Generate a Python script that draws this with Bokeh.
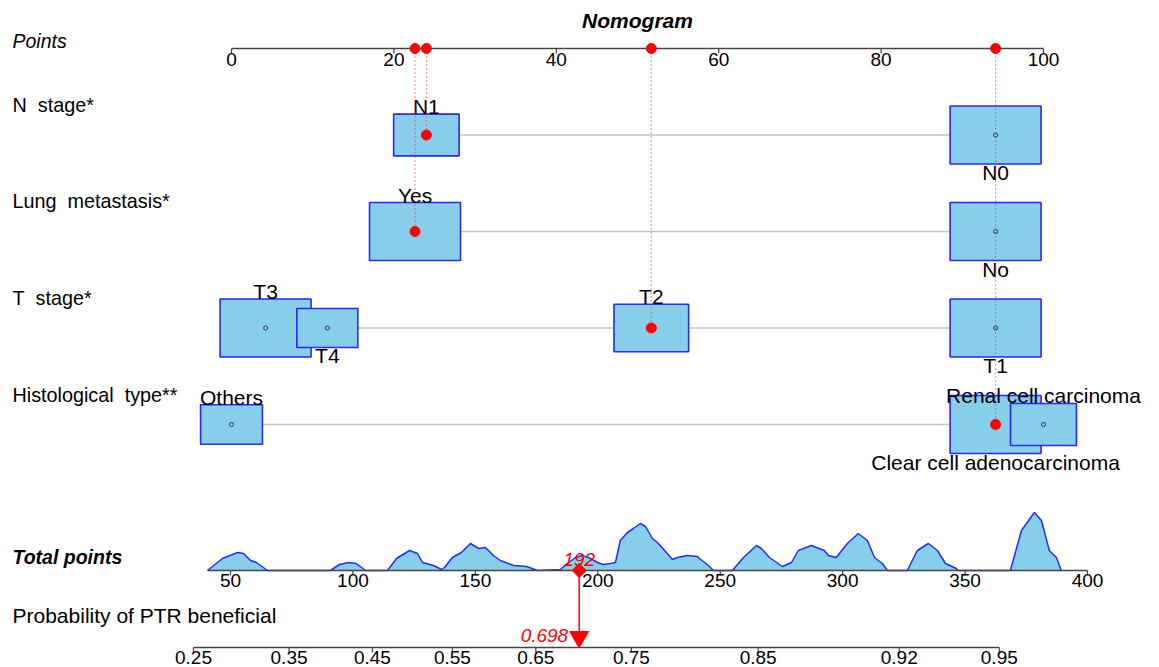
import math
import numpy as np
from bokeh.plotting import figure
from bokeh.models import Range1d
from bokeh.core.properties import value
from bokeh.embed import file_html
from bokeh.resources import INLINE

# ---------------- data ----------------
title = "Nomogram"
row_labels = ["N\u00a0 stage*", "Lung\u00a0 metastasis*", "T\u00a0 stage*", "Histological\u00a0 type**"]

n_stage_cats = ["N1", "N0"]
n_stage_pts = [24.0, 94.1]
n_stage_freq = [0.72, 1.0]

lung_cats = ["Yes", "No"]
lung_pts = [22.6, 94.1]
lung_freq = [1.0, 1.0]

t_stage_cats = ["T3", "T4", "T2", "T1"]
t_stage_pts = [4.2, 11.8, 51.7, 94.1]
t_stage_freq = [1.0, 0.67, 0.82, 1.0]

hist_cats = ["Others", "Clear cell adenocarcinoma", "Renal cell carcinoma"]
hist_pts = [0.0, 94.1, 100.0]
hist_freq = [0.68, 1.0, 0.725]

selected = ["N1", "Yes", "T2", "Clear cell adenocarcinoma"]

points_ticks = [0, 20, 40, 60, 80, 100]
total_ticks = [50, 100, 150, 200, 250, 300, 350, 400]
prob_ticks = [0.25, 0.35, 0.45, 0.55, 0.65, 0.75, 0.85, 0.92, 0.95]
prob_tick_labels = ["0.25", "0.35", "0.45", "0.55", "0.65", "0.75", "0.85", "0.92", "0.95"]

# logistic model: total points = intercept + slope * logit(p)
model_intercept = 124.3
model_slope = 81.4

# distribution of total points in the cohort (x: total points, h: relative density)
density_x = [40.6, 46.7, 52.9, 55.3, 58.2, 60.6, 65.1,
             90.8, 94.5, 98.2, 101.4, 105.1,
             114.1, 117.8, 123.1, 126.4, 128.4, 132.9, 136.2,
             137.4, 140.6, 144.3, 148.0, 151.3, 154.1, 157.4, 160.2, 165.6, 170.9, 175.4,
             184.7, 187.6, 190.9, 193.7, 196.2, 199.9, 202.3, 205.2, 207.2, 209.2, 212.1,
             214.6, 217.4, 219.5, 222.3, 224.4, 228.4, 230.5, 232.5, 236.6, 240.7, 241.5,
             245.2, 247.2,
             255.0, 259.5, 264.8, 266.8, 270.1, 275.4, 279.1, 281.9, 287.2, 292.5, 294.2,
             297.4, 301.9, 306.4, 310.1, 313.0, 316.2, 318.3,
             326.4, 330.5, 335.0, 338.7, 342.0, 346.4, 347.3,
             368.5, 373.0, 378.3, 381.2, 384.4, 387.3, 389.3]
density_h = [0, 12, 18, 17, 10, 8, 0,
             0, 6, 8, 7, 0,
             0, 12, 20, 17, 8, 5, 1,
             3, 13, 18, 27, 22, 23, 15, 10, 5, 4, 0,
             1, 7, 13, 15, 13, 8, 6, 7, 8, 30, 38,
             42, 47, 44, 32, 28, 17, 11, 13, 15, 14, 12,
             5, 0,
             0, 13, 25, 22, 13, 4, 8, 20, 25, 20, 15,
             13, 27, 37, 30, 13, 7, 0,
             0, 20, 27, 20, 7, 2, 0,
             0, 40, 58, 50, 20, 13, 0]

# ---------------- layout ----------------
W, H = 1159, 667
OFF = 0
PTS_PX0, PTS_PX100 = 231.0, 1043.0       # page px of points 0 and 100
TOT_PX50, TOT_PX400 = 230.0, 1087.0      # page px of total points 50 and 400
pts_per_px = 100.0 / (PTS_PX100 - PTS_PX0)
tot_per_px = 350.0 / (TOT_PX400 - TOT_PX50)


def px_to_pts(px):
    return (px - PTS_PX0) * pts_per_px


POINTS_Y = 48
ROW_Y = [134.5, 231.0, 327.5, 424.0]
TOTAL_Y = 570
PROB_Y = 647
BOX_W = 91 * pts_per_px
BOX_H = 58
LABEL_X = px_to_pts(12)
FONT = value("Liberation Sans")
BOX_FILL = "#87CEEB"
BOX_LINE = "#2828ff"
RED = "#ff0000"
AXIS = "#444444"
TXT = dict(text_baseline="middle", text_font=FONT)

p = figure(width=W, height=H,
           x_range=Range1d(px_to_pts(OFF), px_to_pts(OFF + W)),
           y_range=Range1d(OFF + H, OFF),
           output_backend="svg", toolbar_location=None,
           x_axis_location=None, y_axis_location=None,
           min_border=0, outline_line_color=None)
p.xgrid.visible = False
p.ygrid.visible = False
p.extra_x_ranges = {"total": Range1d(50 + (OFF - TOT_PX50) * tot_per_px,
                                     50 + (OFF + W - TOT_PX50) * tot_per_px)}

# ---------- title and Points axis ----------
p.text(x=[50], y=[20], text=[title], text_align="center", text_font_size="21px",
       text_font_style="bold italic", text_color="black", **TXT)
p.text(x=[LABEL_X], y=[40], text=["Points"], text_align="left", text_font_size="19.5px",
       text_font_style="italic", text_color="black", **TXT)
p.line([points_ticks[0], points_ticks[-1]], [POINTS_Y, POINTS_Y], line_color=AXIS, line_width=1.5)
p.segment(x0=points_ticks, y0=[POINTS_Y] * len(points_ticks), x1=points_ticks,
          y1=[POINTS_Y + 5] * len(points_ticks), line_color=AXIS, line_width=1.2)
p.text(x=points_ticks, y=[58.5] * len(points_ticks), text=[str(t) for t in points_ticks],
       text_align="center", text_font_size="19px", text_color="black", **TXT)

# ---------- variable rows ----------
rows = [(n_stage_cats, n_stage_pts, n_stage_freq),
        (lung_cats, lung_pts, lung_freq),
        (t_stage_cats, t_stage_pts, t_stage_freq),
        (hist_cats, hist_pts, hist_freq)]
label_centers = [104, 200, 297.5, 394]

sel_x, sel_y = [], []
for i, (cats, pts, freq) in enumerate(rows):
    y = ROW_Y[i]
    p.text(x=[LABEL_X], y=[label_centers[i]], text=[row_labels[i]], text_align="left",
           text_font_size="19.8px", text_color="black", **TXT)
    p.line([min(pts), max(pts)], [y, y], line_color="#c4c4c4", line_width=1.6)
    order = list(np.argsort(pts))
    xs = [pts[k] for k in order]
    ws = [BOX_W * freq[k] for k in order]
    hs = [BOX_H * freq[k] for k in order]
    p.rect(x=xs, y=[y] * len(xs), width=ws, height=hs, fill_color=BOX_FILL,
           line_color=BOX_LINE, line_width=1.6)
    p.scatter(x=xs, y=[y] * len(xs), size=4, marker="circle", fill_color=None,
              line_color="#333333", line_width=1)
    lx, ly, lt = [], [], []
    for j, k in enumerate(order):
        lx.append(pts[k])
        lt.append(cats[k])
        if j % 2 == 0:
            ly.append(y - BOX_H * freq[k] / 2 - 7.5)
        else:
            ly.append(y + BOX_H * freq[k] / 2 + 8.5)
        if cats[k] in selected:
            sel_x.append(pts[k])
            sel_y.append(y)
    p.text(x=lx, y=ly, text=lt, text_align="center", text_font_size="21px",
           text_color="black", **TXT)

# red dotted lines and selected dots
p.segment(x0=sel_x, y0=[POINTS_Y] * len(sel_x), x1=sel_x, y1=sel_y,
          line_color="#ff3030", line_width=1.2, line_dash="1 3")
p.scatter(x=sel_x, y=sel_y, size=10, marker="circle", fill_color=RED, line_color=RED)
p.scatter(x=sel_x, y=[POINTS_Y] * len(sel_x), size=10, marker="circle",
          fill_color=RED, line_color=RED)

# ---------- Total points ----------
total = sum(sel_x)
p.text(x=[LABEL_X], y=[556], text=["Total points"], text_align="left", text_font_size="19.5px",
       text_font_style="bold italic", text_color="black", **TXT)
dens_y = [TOTAL_Y - h for h in density_h]
p.varea(x=density_x, y1=[TOTAL_Y] * len(density_x), y2=dens_y, fill_color=BOX_FILL,
        x_range_name="total")
p.line(x=density_x, y=dens_y, line_color="#1f2fff", line_width=1.5, x_range_name="total")
p.line([density_x[0], total_ticks[-1]], [TOTAL_Y, TOTAL_Y], line_color=AXIS, line_width=1.5,
       x_range_name="total")
p.segment(x0=total_ticks, y0=[TOTAL_Y] * len(total_ticks), x1=total_ticks,
          y1=[TOTAL_Y + 5] * len(total_ticks), line_color=AXIS, line_width=1.2,
          x_range_name="total")
p.text(x=total_ticks, y=[580] * len(total_ticks), text=[str(t) for t in total_ticks],
       text_align="center", text_font_size="19px", text_color="black",
       x_range_name="total", **TXT)

# ---------- Probability ----------
prob_pos = [model_intercept + model_slope * math.log(q / (1 - q)) for q in prob_ticks]
p.text(x=[LABEL_X], y=[614.5], text=["Probability of PTR beneficial"], text_align="left",
       text_font_size="21px", text_color="black", **TXT)
p.line([prob_pos[0], prob_pos[-1]], [PROB_Y, PROB_Y], line_color=AXIS, line_width=1.5,
       x_range_name="total")
p.segment(x0=prob_pos, y0=[PROB_Y] * len(prob_pos), x1=prob_pos,
          y1=[PROB_Y + 5] * len(prob_pos), line_color=AXIS, line_width=1.2,
          x_range_name="total")
p.text(x=prob_pos, y=[656.5] * len(prob_pos), text=prob_tick_labels,
       text_align="center", text_font_size="19px", text_color="black",
       x_range_name="total", **TXT)

# ---------- prediction marker ----------
prob = 1 / (1 + math.exp(-(total - model_intercept) / model_slope))
p.segment(x0=[total], y0=[TOTAL_Y], x1=[total], y1=[PROB_Y - 8], line_color=RED,
          line_width=1.5, x_range_name="total")
p.scatter(x=[total], y=[TOTAL_Y], marker="square", angle=math.pi / 4, size=10,
          fill_color=RED, line_color=RED, x_range_name="total")
p.scatter(x=[total], y=[636.5], marker="inverted_triangle", size=19,
          fill_color=RED, line_color=RED, x_range_name="total")
p.text(x=[total], y=[558.5], text=[f"{total:.0f}"], text_align="center", text_font_size="19px",
       text_font_style="italic", text_color=RED, x_range_name="total", **TXT)
p.text(x=[total], y=[635], text=[f"{prob:.3f}"], text_align="right", x_offset=-11,
       text_font_size="19px", text_font_style="italic", text_color=RED,
       x_range_name="total", **TXT)

open("out.html", "w").write(file_html(p, INLINE))
